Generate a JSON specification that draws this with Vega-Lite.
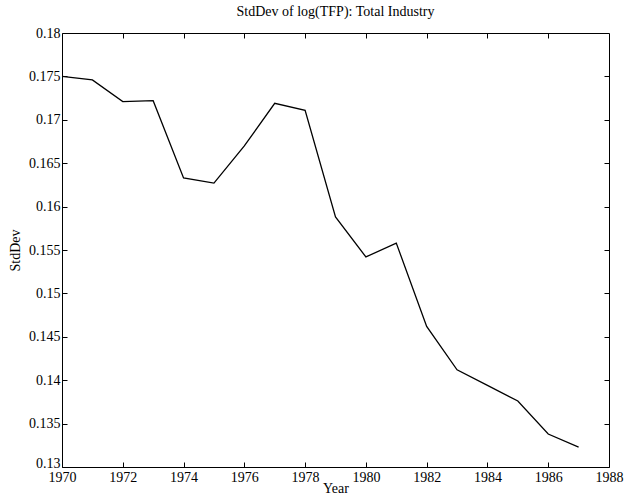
{
  "$schema": "https://vega.github.io/schema/vega-lite/v6.json",
  "width": 547,
  "height": 434,
  "autosize": {"type": "none"},
  "padding": {"left": 62, "top": 33, "right": 17, "bottom": 29},
  "background": "white",
  "title": {"text": "StdDev of log(TFP): Total Industry", "font": "Liberation Serif", "fontSize": 14, "fontWeight": "normal", "color": "black", "offset": 7},
  "config": {
    "view": {"stroke": "black", "strokeWidth": 1},
    "axis": {"labelFont": "Liberation Serif", "titleFont": "Liberation Serif", "labelFontSize": 14, "titleFontSize": 14, "titleFontWeight": "normal", "labelColor": "black", "titleColor": "black", "domain": false, "grid": false, "tickColor": "black", "tickSize": -5, "tickWidth": 1}
  },
  "data": {"values": [
    {"Year": 1970, "StdDev": 0.1750},
    {"Year": 1971, "StdDev": 0.1746},
    {"Year": 1972, "StdDev": 0.1721},
    {"Year": 1973, "StdDev": 0.1722},
    {"Year": 1974, "StdDev": 0.1633},
    {"Year": 1975, "StdDev": 0.1627},
    {"Year": 1976, "StdDev": 0.1670},
    {"Year": 1977, "StdDev": 0.1719},
    {"Year": 1978, "StdDev": 0.1711},
    {"Year": 1979, "StdDev": 0.1588},
    {"Year": 1980, "StdDev": 0.1542},
    {"Year": 1981, "StdDev": 0.1558},
    {"Year": 1982, "StdDev": 0.1462},
    {"Year": 1983, "StdDev": 0.1412},
    {"Year": 1984, "StdDev": 0.1394},
    {"Year": 1985, "StdDev": 0.1376},
    {"Year": 1986, "StdDev": 0.1338},
    {"Year": 1987, "StdDev": 0.1323}
  ]},
  "layer": [
    {
      "mark": {"type": "line", "color": "black", "strokeWidth": 1.3},
      "encoding": {
        "x": {"field": "Year", "type": "quantitative", "scale": {"domain": [1970, 1988], "nice": false, "zero": false},
              "axis": {"values": [1970,1972,1974,1976,1978,1980,1982,1984,1986,1988], "format": "d", "title": "Year", "labelPadding": 8, "titlePadding": -3, "labelFlush": false}},
        "y": {"field": "StdDev", "type": "quantitative", "scale": {"domain": [0.13, 0.18], "nice": false, "zero": false},
              "axis": {"values": [0.13,0.135,0.14,0.145,0.15,0.155,0.16,0.165,0.17,0.175,0.18], "format": ".3~f", "title": "StdDev", "labelPadding": 7, "titlePadding": 6, "labelFlush": false,
                       "labelBaseline": {"condition": {"test": "datum.value <= 0.1301", "value": "alphabetic"}, "value": "middle"}}}
      }
    },
    {
      "mark": {"type": "line", "opacity": 0},
      "encoding": {
        "x": {"field": "Year", "type": "quantitative", "scale": {"domain": [1970, 1988], "nice": false, "zero": false},
              "axis": {"orient": "top", "values": [1972,1974,1976,1978,1980,1982,1984,1986], "labels": false, "title": null}},
        "y": {"field": "StdDev", "type": "quantitative", "scale": {"domain": [0.13, 0.18], "nice": false, "zero": false},
              "axis": {"orient": "right", "values": [0.135,0.14,0.145,0.15,0.155,0.16,0.165,0.17,0.175], "labels": false, "title": null}}
      }
    }
  ],
  "resolve": {"scale": {"x": "independent", "y": "independent"}, "axis": {"x": "independent", "y": "independent"}}
}
